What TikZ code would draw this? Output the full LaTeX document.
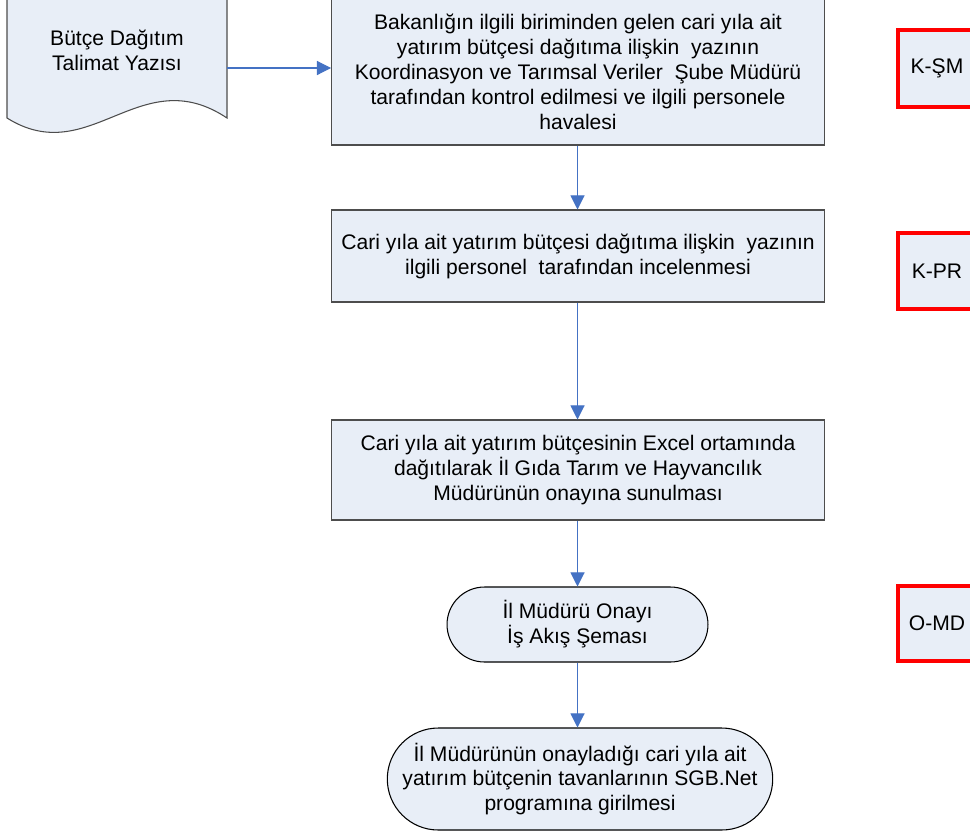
\documentclass[tikz,border=0pt]{standalone}
\usepackage{fontspec}
\setmainfont{Liberation Sans}
\usepackage{tikz}
\usetikzlibrary{arrows.meta,shapes.misc,calc}
\definecolor{boxfill}{HTML}{E8EEF7}
\definecolor{boxline}{HTML}{4D4D4D}
\definecolor{flowblue}{HTML}{4472C4}
\tikzset{prc/.style={rectangle,draw=boxline,fill=boxfill,line width=.6pt,inner sep=0pt,minimum width=9.86cm,align=center,font=\fontsize{12}{14.2}\selectfont},
term/.style={rounded rectangle,draw=black,fill=boxfill,line width=.6pt,inner sep=0pt,align=center,font=\fontsize{12}{14.2}\selectfont},
tag/.style={rectangle,draw=red,fill=boxfill,line width=1.8pt,inner sep=0pt,minimum width=1.56cm,font=\fontsize{12}{14.2}\selectfont},
nil/.style={inner sep=0pt,align=center,font=\fontsize{12}{14.2}\selectfont},
flow/.style={draw=flowblue,line width=.6pt,-{Triangle[length=8pt,width=8pt]}}}

\begin{document}
\begin{tikzpicture}[x=0.02cm,y=-0.02cm]
\clip (0,0) rectangle (970,836);
\fill[white] (0,0) rectangle (970,836);
\draw[boxline,fill=boxfill,line width=.6pt] (7,-4) -- (227,-4) -- (227,118) .. controls (140,60) and (90,170) .. (7,118) -- cycle;
\node[nil,minimum width=4.4cm,minimum height=2.72cm] (doc) at (117,68) {};
\node[nil] (doct) at (117,50) {Bütçe Dağıtım\\Talimat Yazısı};
\node[prc,minimum height=2.94cm] (b1) at (578,71.5) {Bakanlığın ilgili biriminden gelen cari yıla ait\\yatırım bütçesi dağıtıma ilişkin\ \ yazının\\Koordinasyon ve Tarımsal Veriler\ \ Şube Müdürü\\tarafından kontrol edilmesi ve ilgili personele\\havalesi};
\node[prc,minimum height=1.84cm] (b2) at (578,256) {Cari yıla ait yatırım bütçesi dağıtıma ilişkin\ \ yazının\\ilgili personel\ \ tarafından incelenmesi};
\node[prc,minimum height=2cm] (b3) at (578,470) {Cari yıla ait yatırım bütçesinin Excel ortamında\\dağıtılarak İl Gıda Tarım ve Hayvancılık\\Müdürünün onayına sunulması};
\node[term,minimum width=5.22cm,minimum height=1.5cm] (t1) at (577.5,624.5) {İl Müdürü Onayı\\İş Akış Şeması};
\node[term,minimum width=7.68cm,minimum height=2.04cm] (t2) at (580,779) {İl Müdürünün onayladığı cari yıla ait\\yatırım bütçenin tavanlarının SGB.Net\\programına girilmesi};
\node[tag,minimum height=1.54cm] (r1) at (937,68.5) {K-ŞM};
\node[tag,minimum height=1.52cm] (r2) at (937,271) {K-PR};
\node[tag,minimum height=1.5cm] (r3) at (937,623.5) {O-MD};
\draw[flow] (doc.east) -- (doc.east -| b1.west);
\draw[flow] (b1.south -| t1.north) -- (b2.north -| t1.north);
\draw[flow] (b2.south -| t1.north) -- (b3.north -| t1.north);
\draw[flow] (b3.south -| t1.north) -- (t1.north);
\draw[flow] (t1.south) -- (t1.south |- t2.north);
\end{tikzpicture}
\end{document}
